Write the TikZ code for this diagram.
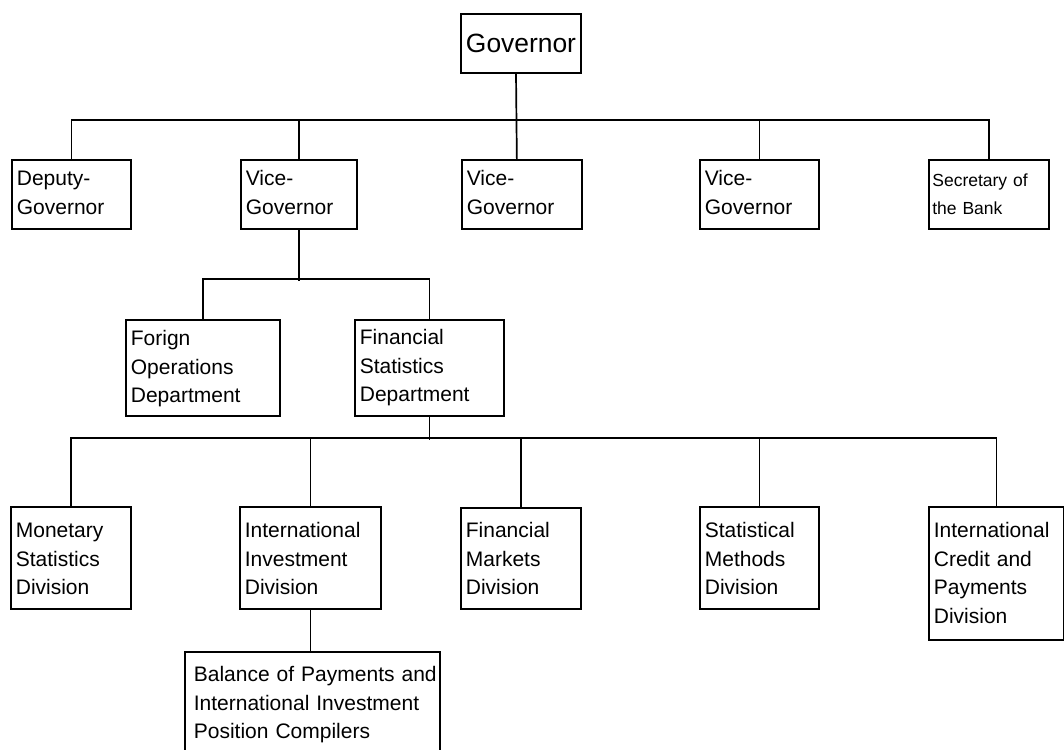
\documentclass[tikz,border=0pt]{standalone}
\usepackage{fontspec}
\setmainfont{Liberation Sans}
\begin{document}
\begin{tikzpicture}[x=1pt,y=-1pt,
  box/.style={draw, line width=1.7pt, anchor=north west, inner xsep=5pt, inner ysep=0pt,
    align=left, font=\fontsize{21}{28.5}\selectfont},
  conn/.style={line width=1.7pt, line join=miter}]
\useasboundingbox (0,0) rectangle (1064,749);
\clip (0,0) rectangle (1064,749);
\fill[white] (0,0) rectangle (1064,749);
% Governor
\node[draw, line width=1.7pt, minimum width=120pt, minimum height=59pt, inner sep=0pt,
  font=\fontsize{26.4}{30}\selectfont] (gov) at (521,43.5) {Governor};
% second row
\node[box, text width=109pt, text height=26pt, text depth=43pt] (dep) at (11,159) {Deputy-\\Governor};
\node[box, text width=106pt, text height=26pt, text depth=43pt] (vp1) at (240,159) {Vice-\\Governor};
\node[box, text width=110pt, text height=26pt, text depth=43pt] (vp2) at (461,159) {Vice-\\Governor};
\node[box, text width=109pt, text height=26pt, text depth=43pt] (vp3) at (699,159) {Vice-\\Governor};
\node[box, inner xsep=3.5pt, text width=113pt, text height=27pt, text depth=42pt,
  font=\fontsize{17.5}{28}\selectfont] (sec) at (928,159) {Secretary of\\the Bank};
% departments
\node[box, text width=144pt, text height=26pt, text depth=70pt] (fod) at (125,319) {Forign\\Operations\\Department};
\node[box, text width=139pt, text height=25pt, text depth=71pt] (fsd) at (354,319) {Financial\\Statistics\\Department};
% divisions
\node[box, text width=110pt, text height=31pt, text depth=71pt] (mon) at (10,506) {Monetary\\Statistics\\Division};
\node[box, text width=131pt, text height=31pt, text depth=71pt] (iid) at (239,506) {International\\Investment\\Division};
\node[box, text width=110pt, text height=30pt, text depth=71pt] (fmd) at (460,507) {Financial\\Markets\\Division};
\node[box, text width=109pt, text height=31pt, text depth=71pt] (smd) at (699,506) {Statistical\\Methods\\Division};
\node[box, text width=125pt, text height=31pt, text depth=102pt] (icp) at (928,506) {International\\Credit and\\Payments\\Division};
\node[box, inner xsep=9pt, text width=237pt, text height=30pt, text depth=90pt] (bop) at (184,651)
  {\mbox{Balance of Payments and}\\\mbox{International Investment}\\\mbox{Position Compilers}};
% connectors
\draw[conn] ([xshift=-5pt]gov.south) -- ([xshift=-5pt]vp2.north);
\draw[conn] (dep.north) -- ++(0,-39) -| (sec.north);
\draw[conn] (vp1.north) -- ++(0,-39);
\draw[conn] (vp3.north) -- ++(0,-39);
\draw[conn] (vp1.south) -- ++(0,51);
\draw[conn] (fod.north) -- ++(0,-40) -| (fsd.north);
\draw[conn] (fsd.south) -- ++(0,23);
\draw[conn] (mon.north) -- ++(0,-68) -| (icp.north);
\draw[conn] (iid.north) -- ++(0,-68);
\draw[conn] (fmd.north) -- ++(0,-69);
\draw[conn] (smd.north) -- ++(0,-68);
\draw[conn] (iid.south) -- (iid.south |- bop.north);
\end{tikzpicture}
\end{document}
